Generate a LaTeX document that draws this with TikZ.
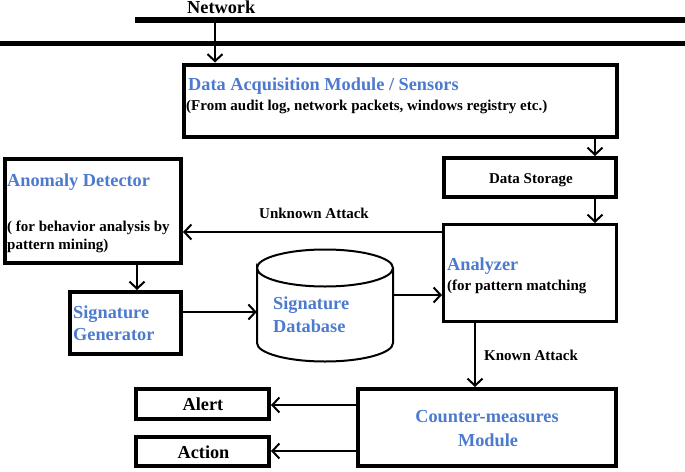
\documentclass[tikz,border=0pt]{standalone}
\usepackage{fontspec}
\setmainfont{Liberation Serif}
\usetikzlibrary{arrows.meta}
\definecolor{ttl}{RGB}{76,122,206}
\tikzset{
  x=1pt, y=-1pt,
  box/.style={draw=black, line width=4pt, rectangle, inner sep=0pt},
  thinbox/.style={draw=black, line width=3pt, rectangle, inner sep=0pt},
  big/.style={font=\bfseries\fontsize{18.3}{20}\selectfont, inner sep=0pt},
  small/.style={font=\bfseries\fontsize{15}{17}\selectfont, inner sep=0pt},
  title/.style={big, text=ttl},
  conn/.style={line width=2pt, -{Straight Barb[length=7pt,width=15pt,line width=2pt]}},
}
\begin{document}
\begin{tikzpicture}
\useasboundingbox (0,0) rectangle (685,471);
% network bars
\coordinate (b1l) at (135,20.3);
\coordinate (b1r) at (685,20.3);
\coordinate (b2l) at (0,43.3);
\coordinate (b2r) at (685,43.3);
\draw[line width=6pt] (b1l) -- (b1r);
\draw[line width=4.7pt] (b2l) -- (b2r);
\node[big, anchor=base west] (net) at (187,13.3) {Network};

% boxes
\node[box, minimum width=433pt, minimum height=72.5pt] (dam) at (400.5,100.75) {};
\node[box, minimum width=172pt, minimum height=39pt] (ds) at (530,177.5) {};
\node[thinbox, minimum width=173pt, minimum height=97pt] (an) at (530,273) {};
\node[box, minimum width=176pt, minimum height=104pt] (ad) at (93,211) {};
\node[box, minimum width=111pt, minimum height=62pt] (sg) at (125.5,323) {};
\node[box, minimum width=258pt, minimum height=77pt] (cm) at (487,427.5) {};
\node[box, minimum width=133pt, minimum height=30pt] (al) at (202.5,404) {};
\node[box, minimum width=133pt, minimum height=29pt] (ac) at (202.5,451.5) {};

% cylinder
\node[rectangle, inner sep=0pt, minimum width=136pt, minimum height=111pt] (db) at (325,305.5) {};
\draw[line width=2pt] (257,268) arc[start angle=180, end angle=360, x radius=68, y radius=18.5]
  arc[start angle=0, end angle=180, x radius=68, y radius=18.5] -- (257,343)
  arc[start angle=180, end angle=0, x radius=68, y radius=18.5] -- (393,268);

% texts
\node[title, anchor=base west] (damt) at (188,90.7) {Data Acquisition Module / Sensors};
\node[small, anchor=base west] (dams) at (186,110.5) {(From audit log, network packets, windows registry etc.)};
\node[small, anchor=base] (dst) at (531,183.3) {Data Storage};
\node[title, anchor=base west] (adt) at (7,186.5) {Anomaly Detector};
\node[small, anchor=base west] (ads1) at (7,231) {( for behavior analysis by};
\node[small, anchor=base west] (ads2) at (7,249.5) {pattern mining)};
\node[title, anchor=base west] (sgt1) at (73,318) {Signature};
\node[title, anchor=base west] (sgt2) at (73,340.8) {Generator};
\node[title, anchor=base west] (dbt1) at (273,309.3) {Signature};
\node[title, anchor=base west] (dbt2) at (273,332.7) {Database};
\node[title, anchor=base west] (ant) at (447,270.5) {Analyzer};
\node[small, anchor=base west] (ans) at (447,290) {(for pattern matching};
\node[title, anchor=base] (cmt1) at (487,422.7) {Counter-measures};
\node[title, anchor=base] (cmt2) at (488,446) {Module};
\node[big, anchor=base] (alt) at (203,410) {Alert};
\node[big, anchor=base] (act) at (203.5,458.3) {Action};
\node[small, anchor=base west] (ua) at (259,218) {Unknown Attack};
\node[small, anchor=base west] (ka) at (484,360) {Known Attack};

% connectors
\coordinate (netsrc) at (215,23);
\draw[conn] (netsrc) -- (netsrc |- dam.north);
\draw[conn] (dam.south -| 595,0) -- (ds.north -| 595,0);
\draw[conn] (ds.south -| 595,0) -- (an.north -| 595,0);
\draw[conn, line width=1.8pt] (an.west |- 0,232) -- (ad.east |- 0,232);
\draw[conn] (ad.south -| 137,0) -- (sg.north -| 137,0);
\draw[conn] (sg.east |- 0,312) -- (db.west |- 0,312);
\draw[conn] (db.east |- 0,295) -- (an.west |- 0,295);
\draw[conn] (an.south -| 475,0) -- (cm.north -| 475,0);
\draw[conn] (cm.west |- 0,405) -- (al.east |- 0,405);
\draw[conn] (cm.west |- 0,451) -- (ac.east |- 0,451);
\end{tikzpicture}
\end{document}
